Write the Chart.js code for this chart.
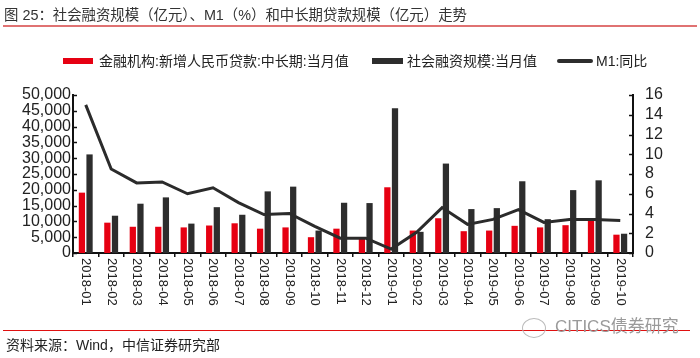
<!DOCTYPE html>
<html><head><meta charset="utf-8">
<script src="https://cdn.jsdelivr.net/npm/chart.js@4"></script>
<style>
html,body{margin:0;padding:0;background:#fff;}
#wrap{position:relative;width:700px;height:358px;overflow:hidden;font-family:"Liberation Sans","Noto Sans CJK SC",sans-serif;color:#222;}
canvas{position:absolute;left:0;top:0;}
.abs{position:absolute;white-space:nowrap;}
.title{left:4px;top:6px;font-size:14.4px;line-height:18px;color:#333;}
.tline{left:3px;width:694px;top:25px;height:2px;background:#e07272;}
.lt{font-size:14px;line-height:18px;top:52px;color:#222;}
.bline{left:3px;width:687px;top:330px;height:1px;background:#e01010;}
.src{left:6px;top:336px;font-size:14px;line-height:18px;color:#222;}
.wm{left:555px;top:317px;font-size:17px;line-height:20px;color:#9a9a9a;}
.icon{left:522px;top:318px;width:22px;height:18px;border:1px solid #bbb;border-radius:50%;}
</style>
</head>
<body>
<div id="wrap">
  <canvas id="c" width="700" height="358"></canvas>
  <div class="abs title">图 25：社会融资规模（亿元）、M1（%）和中长期贷款规模（亿元）走势</div>
  <div class="abs tline"></div>
  <div class="abs" style="left:63px;top:58px;width:30px;height:6px;background:#e60012;"></div>
  <div class="abs lt" style="left:99px;">金融机构:新增人民币贷款:中长期:当月值</div>
  <div class="abs" style="left:372px;top:58px;width:31px;height:6px;background:#2d2d2d;"></div>
  <div class="abs lt" style="left:407px;">社会融资规模:当月值</div>
  <div class="abs" style="left:557px;top:59px;width:36px;height:4px;border-radius:2px;background:#2d2d2d;"></div>
  <div class="abs lt" style="left:596px;">M1:同比</div>
  <div class="abs bline"></div>
  <div class="abs icon"></div>
  <div class="abs wm">CITICS债券研究</div>
  <div class="abs src">资料来源：Wind，中信证券研究部</div>
</div>
<script>
const months = ['2018-01','2018-02','2018-03','2018-04','2018-05','2018-06','2018-07','2018-08','2018-09','2018-10','2018-11','2018-12','2019-01','2019-02','2019-03','2019-04','2019-05','2019-06','2019-07','2019-08','2019-09','2019-10'];
const loanValues = [19100, 9600, 8300, 8300, 8100, 8700, 9400, 7700, 8100, 5000, 7700, 4700, 20800, 7100, 11000, 6900, 7100, 8600, 8100, 8800, 10500, 5800];
const socialValues = [31200, 11800, 15600, 17600, 9300, 14500, 12100, 19500, 21000, 7100, 15900, 15800, 45800, 6700, 28300, 13900, 14200, 22700, 10700, 19900, 23000, 6100];
const m1Values = [15.0, 8.5, 7.1, 7.2, 6.0, 6.6, 5.1, 3.9, 4.0, 2.7, 1.5, 1.5, 0.4, 2.1, 4.6, 2.9, 3.4, 4.4, 3.1, 3.4, 3.4, 3.3];
const leftAxis = {min: 0, max: 50000, step: 5000};
const rightAxis = {min: 0, max: 16, step: 2};

const FONT = '"Liberation Sans","Noto Sans CJK SC",sans-serif';

const customDraw = {
  id: 'customDraw',
  afterDraw(chart) {
    const ctx = chart.ctx;
    const x = chart.scales.x, y = chart.scales.y, y1 = chart.scales.y1;
    const area = chart.chartArea;
    ctx.save();
    ctx.strokeStyle = '#111';
    ctx.lineWidth = 1.5;
    y.ticks.forEach(t => {
      const py = Math.round(y.getPixelForValue(t.value)) + 0.5;
      ctx.beginPath(); ctx.moveTo(area.left, py); ctx.lineTo(area.left + 4, py); ctx.stroke();
    });
    y1.ticks.forEach(t => {
      const py = Math.round(y1.getPixelForValue(t.value)) + 0.5;
      ctx.beginPath(); ctx.moveTo(area.right - 4, py); ctx.lineTo(area.right, py); ctx.stroke();
    });
    ctx.fillStyle = '#222';
    ctx.font = '13px ' + FONT;
    ctx.textAlign = 'left';
    ctx.textBaseline = 'middle';
    months.forEach((m, i) => {
      const px = x.getPixelForValue(i);
      ctx.save();
      ctx.translate(px, area.bottom + 5);
      ctx.rotate(Math.PI / 2);
      ctx.fillText(m, 0, 0);
      ctx.restore();
    });
    ctx.restore();
  }
};

new Chart(document.getElementById('c'), {
  data: {
    labels: months,
    datasets: [
      {type: 'line', label: 'M1:同比', data: m1Values, yAxisID: 'y1', borderColor: '#2b2b2b', borderWidth: 3, pointRadius: 0, tension: 0, order: 0, fill: false},
      {type: 'bar', label: '金融机构:新增人民币贷款:中长期:当月值', data: loanValues, yAxisID: 'y', backgroundColor: '#e60012', order: 1, categoryPercentage: 0.6, barPercentage: 0.82},
      {type: 'bar', label: '社会融资规模:当月值', data: socialValues, yAxisID: 'y', backgroundColor: '#2d2d2d', order: 2, categoryPercentage: 0.6, barPercentage: 0.82}
    ]
  },
  options: {
    responsive: false,
    animation: false,
    layout: {padding: {top: 95, left: 0, right: 0, bottom: 0}},
    plugins: {legend: {display: false}, tooltip: {enabled: false}},
    scales: {
      x: {
        type: 'category', offset: true,
        grid: {display: true, drawOnChartArea: false, drawTicks: true, tickLength: 4, color: '#111', lineWidth: 1.5, offset: true},
        border: {display: true, color: '#111', width: 2},
        ticks: {display: false, autoSkip: false},
        afterFit(s) { s.height = 105; }
      },
      y: {
        position: 'left', min: leftAxis.min, max: leftAxis.max,
        ticks: {stepSize: leftAxis.step, autoSkip: false, padding: 2, color: '#222', font: {size: 16, family: FONT}, callback: v => v.toLocaleString('en-US')},
        grid: {display: false, drawTicks: false},
        border: {display: true, color: '#111', width: 2},
        afterFit(s) { s.width = 73; }
      },
      y1: {
        position: 'right', min: rightAxis.min, max: rightAxis.max,
        ticks: {stepSize: rightAxis.step, autoSkip: false, padding: 12, color: '#222', font: {size: 16, family: FONT}},
        grid: {display: false, drawTicks: false},
        border: {display: true, color: '#111', width: 2},
        afterFit(s) { s.width = 67; }
      }
    }
  },
  plugins: [customDraw]
});
</script>
</body></html>
